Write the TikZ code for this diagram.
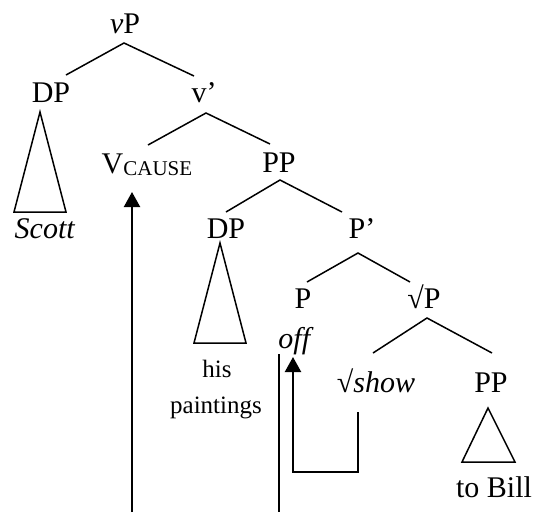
\documentclass[tikz,border=0pt]{standalone}
\usepackage{fontspec}
\setmainfont{Liberation Serif}
\usetikzlibrary{arrows.meta,calc}
\begin{document}
\begin{tikzpicture}[x=1pt,y=-1pt,
  lab/.style={font=\fontsize{30}{36}\selectfont, inner sep=0pt, anchor=base},
  small/.style={font=\fontsize{25}{30}\selectfont, inner sep=0pt, anchor=base},
  edge/.style={line width=1.5pt, line join=miter},
  mvarrow/.style={line width=2.2pt, -{Triangle[width=16pt,length=15pt]}},
  trace/.style={line width=1.7pt}]
\useasboundingbox (0,0) rectangle (536,512);
% nodes
\node[lab] (vP) at (125,33) {\textit{v}P};
\node[lab] (DPa) at (51,102) {DP};
\node[lab] (vbar) at (204,102) {v’};
\node[lab] (Scott) at (45,238) {\textit{Scott}};
\node[lab] (VC) at (147,173) {V\raisebox{-2pt}{\fontsize{21}{24}\selectfont CAUSE}};
\node[lab] (PPa) at (279,172) {PP};
\node[lab] (DPb) at (226,238) {DP};
\node[lab] (Pbar) at (362,238) {P’};
\node[lab] (P) at (303,308) {P};
\node[lab] (rootP) at (424,308) {√P};
\node[lab] (off) at (296,348) {\textit{off}};
\node[lab] (show) at (376,392) {√\textit{show}};
\node[lab] (PPb) at (491,392) {PP};
\node[small] (his) at (217,377) {his};
\node[small] (paint) at (216,413) {paintings};
\node[lab] (toBill) at (494,497) {to Bill};
\coordinate (bot1) at (132,512);
\coordinate (bot2) at (279,512);
% tree edges
\draw[edge] ($(DPa.base)+(15,-27)$) -- ($(vP.base)+(-1,10)$) -- ($(vbar.base)+(-10,-26)$);
\draw[edge] ($(VC.base)+(1,-28)$) -- ($(vbar.base)+(2,11)$) -- ($(PPa.base)+(-9,-28)$);
\draw[edge] ($(DPb.base)+(0,-26)$) -- ($(PPa.base)+(1,8)$) -- ($(Pbar.base)+(-20,-26)$);
\draw[edge] ($(P.base)+(4,-26)$) -- ($(Pbar.base)+(-4,15)$) -- ($(rootP.base)+(-14,-26)$);
\draw[edge] ($(show.base)+(-3,-39)$) -- ($(rootP.base)+(3,10)$) -- ($(PPb.base)+(1,-39)$);
% triangles
\draw[edge] ($(DPa.base)+(-11,10)$) -- ($(Scott.base)+(-31,-26)$) -- ($(Scott.base)+(21,-26)$) -- cycle;
\draw[edge] ($(DPb.base)+(-6,5)$) -- ($(his.base)+(-23,-34)$) -- ($(his.base)+(29,-34)$) -- cycle;
\draw[edge] ($(PPb.base)+(-3,16)$) -- ($(toBill.base)+(-32,-35)$) -- ($(toBill.base)+(21,-35)$) -- cycle;
% movement
\draw[mvarrow] (bot1) -- ($(VC.base)+(-15,19)$);
\draw[trace] ($(off.base)+(-17,6)$) -- (bot2);
\draw[mvarrow, line join=miter] ($(show.base)+(-18,20)$) |- ($(off.base)+(-3,472-348)$) -- ($(off.base)+(-3,9)$);
\end{tikzpicture}
\end{document}
